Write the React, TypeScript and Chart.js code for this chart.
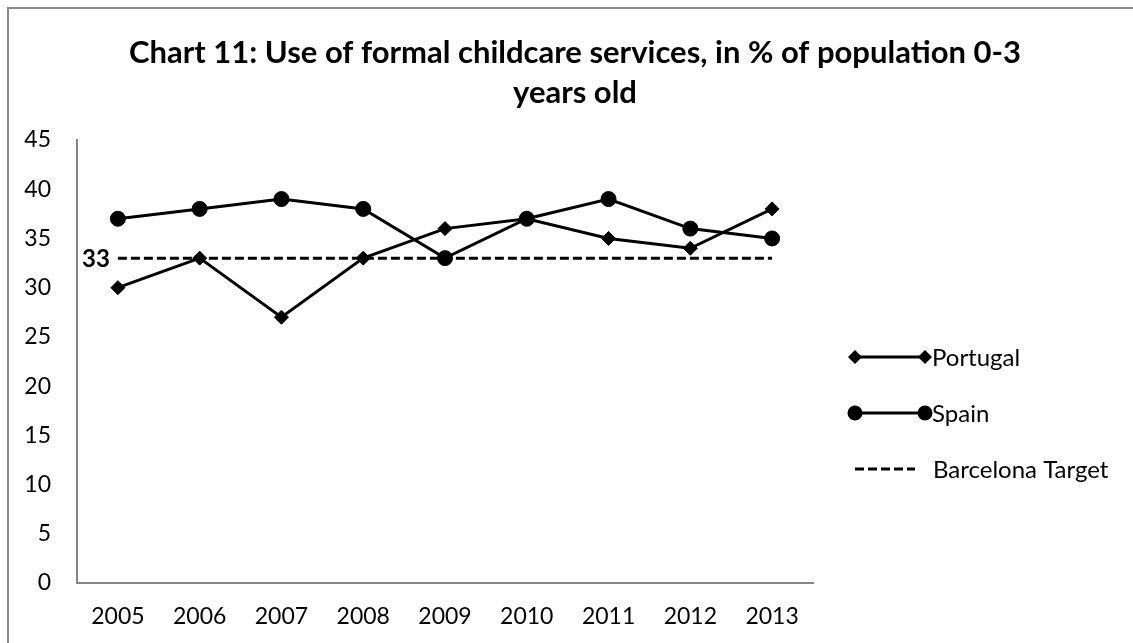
import React, { useEffect, useRef } from "react";
import { Chart, registerables } from "chart.js";

Chart.register(...registerables);

const years = ["2005", "2006", "2007", "2008", "2009", "2010", "2011", "2012", "2013"];
const portugal = [30, 33, 27, 33, 36, 37, 35, 34, 38];
const spain = [37, 38, 39, 38, 33, 37, 39, 36, 35];
const barcelonaTarget = [33, 33, 33, 33, 33, 33, 33, 33, 33];
const seriesNames = ["Portugal", "Spain", "Barcelona Target"];
const titleLines = [
  "Chart 11: Use of formal childcare services, in % of population 0-3",
  "years old",
];
const targetLabel = "33";
const yMin = 0;
const yMax = 45;
const yStep = 5;

const FONT = "Lato, Carlito, 'Open Sans', sans-serif";
const AXIS_GRAY = "#868686";

function drawMarker(ctx: CanvasRenderingContext2D, style: string, x: number, y: number, r: number) {
  ctx.beginPath();
  if (style === "circle") {
    ctx.arc(x, y, r, 0, Math.PI * 2);
  } else {
    ctx.moveTo(x - r, y);
    ctx.lineTo(x, y - r);
    ctx.lineTo(x + r, y);
    ctx.lineTo(x, y + r);
    ctx.closePath();
  }
  ctx.fill();
}

const titlePlugin = {
  id: "customTitle",
  afterDraw(chart: any) {
    const ctx = chart.ctx as CanvasRenderingContext2D;
    ctx.save();
    ctx.fillStyle = "#000";
    ctx.font = `bold 31px ${FONT}`;
    ctx.textAlign = "center";
    ctx.textBaseline = "alphabetic";
    ctx.fillText(titleLines[0], 566, 54);
    ctx.fillText(titleLines[1], 566, 94);
    ctx.restore();
  },
};

const targetLabelPlugin = {
  id: "targetLabel",
  afterDatasetsDraw(chart: any) {
    const meta = chart.getDatasetMeta(2);
    const pt = meta.data[0];
    if (!pt) return;
    const ctx = chart.ctx as CanvasRenderingContext2D;
    ctx.save();
    ctx.fillStyle = "#000";
    ctx.font = `bold 24px ${FONT}`;
    ctx.textAlign = "right";
    ctx.textBaseline = "middle";
    ctx.fillText(targetLabel, pt.x - 8, pt.y + 1);
    ctx.restore();
  },
};

const legendPlugin = {
  id: "customLegend",
  afterDraw(chart: any) {
    const ctx = chart.ctx as CanvasRenderingContext2D;
    const rows = [348, 404, 460];
    const x0 = 846;
    ctx.save();
    chart.data.datasets.forEach((ds: any, i: number) => {
      const y = rows[i];
      ctx.strokeStyle = ds.borderColor;
      ctx.fillStyle = ds.borderColor;
      ctx.lineWidth = ds.borderWidth;
      const dashed = Array.isArray(ds.borderDash) && ds.borderDash.length > 0;
      const x1 = dashed ? 906 : 916;
      ctx.setLineDash(dashed ? ds.borderDash : []);
      ctx.beginPath();
      ctx.moveTo(x0, y);
      ctx.lineTo(x1, y);
      ctx.stroke();
      ctx.setLineDash([]);
      if (!dashed) {
        drawMarker(ctx, ds.pointStyle, x0, y, ds.pointRadius);
        drawMarker(ctx, ds.pointStyle, x1, y, ds.pointRadius);
      }
      ctx.fillStyle = "#000";
      ctx.font = `24px ${FONT}`;
      ctx.textAlign = "left";
      ctx.textBaseline = "middle";
      ctx.fillText(ds.label, dashed ? 924 : 923, y + 1);
    });
    ctx.restore();
  },
};

export default function App() {
  const canvasRef = useRef<HTMLCanvasElement | null>(null);

  useEffect(() => {
    if (!canvasRef.current) return;
    const chart = new Chart(canvasRef.current, {
      type: "line",
      data: {
        labels: years,
        datasets: [
          {
            label: seriesNames[0],
            data: portugal,
            borderColor: "#000",
            backgroundColor: "#000",
            borderWidth: 3,
            pointStyle: "rectRot",
            pointRadius: 7,
            pointBorderWidth: 1,
            pointBackgroundColor: "#000",
            tension: 0,
          },
          {
            label: seriesNames[1],
            data: spain,
            borderColor: "#000",
            backgroundColor: "#000",
            borderWidth: 3,
            pointStyle: "circle",
            pointRadius: 7.5,
            pointBorderWidth: 1,
            pointBackgroundColor: "#000",
            tension: 0,
          },
          {
            label: seriesNames[2],
            data: barcelonaTarget,
            borderColor: "#000",
            backgroundColor: "#000",
            borderWidth: 3,
            borderDash: [9, 4],
            pointRadius: 0,
            tension: 0,
          },
        ],
      },
      options: {
        responsive: false,
        animation: false,
        layout: { padding: { top: 131, right: 320, left: 0, bottom: 0 } },
        plugins: {
          legend: { display: false },
          title: { display: false },
          tooltip: { enabled: false },
        },
        scales: {
          x: {
            offset: true,
            grid: { display: false, drawTicks: false },
            border: { display: true, color: AXIS_GRAY, width: 2 },
            ticks: {
              color: "#000",
              font: { family: FONT, size: 23 },
              padding: 20,
              maxRotation: 0,
              autoSkip: false,
            },
            afterFit: (s: any) => {
              s.height = 60;
            },
          },
          y: {
            min: yMin,
            max: yMax,
            grid: { display: false, drawTicks: false },
            border: { display: true, color: AXIS_GRAY, width: 2 },
            ticks: {
              stepSize: yStep,
              color: "#000",
              font: { family: FONT, size: 23 },
              padding: 26,
            },
            afterFit: (s: any) => {
              s.width = 68;
            },
          },
        },
      },
      plugins: [titlePlugin, targetLabelPlugin, legendPlugin],
    });
    let alive = true;
    if ((document as any).fonts && (document as any).fonts.ready) {
      (document as any).fonts.ready.then(() => {
        if (alive) chart.update();
      });
    }
    return () => {
      alive = false;
      chart.destroy();
    };
  }, []);

  return (
    <div
      style={{
        position: "absolute",
        left: 7,
        top: 7,
        borderLeft: "2px solid #8c8c8c",
        borderTop: "2px solid #8c8c8c",
        width: 1124,
        height: 634,
      }}
    >
      <canvas ref={canvasRef} width={1124} height={634} style={{ display: "block", width: 1124, height: 634 }} />
    </div>
  );
}
